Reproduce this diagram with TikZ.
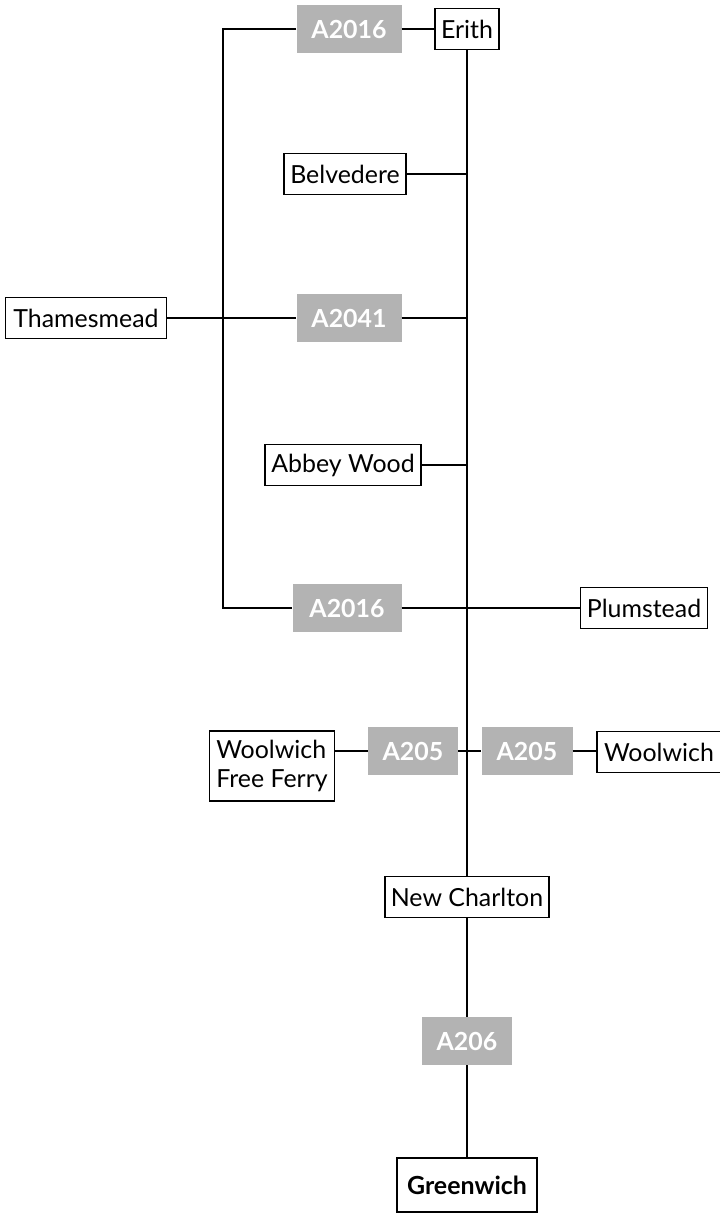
\documentclass[tikz,border=0pt]{standalone}
\usepackage{fontspec}
\setmainfont{Lato}
\usetikzlibrary{calc}

\begin{document}
\begin{tikzpicture}[
  x=1bp, y=-1bp,
  line/.style={black, line width=1.3bp},
  place/.style={draw, line width=1.4bp, fill=white, minimum height=41bp, inner sep=3bp,
    font=\fontsize{25}{28}\selectfont},
  road/.style={fill=roadgrey, text=white, minimum height=48bp, inner sep=3bp,
    font=\fontsize{25}{28}\selectfont\bfseries},
  town/.style={place, line width=2.6bp, minimum height=54bp, font=\fontsize{25}{28}\selectfont\bfseries}
  ]
  \definecolor{roadgrey}{HTML}{B3B3B3}
  \useasboundingbox (0,0) rectangle (720,1213);

  % places
  \node[place, minimum width=64bp]  (erith)      at (467,29)  {Erith};
  \node[place, minimum width=122bp] (belvedere)  at (345,174) {Belvedere};
  \node[place, minimum width=161bp] (thamesmead) at (86,318)  {Thamesmead};
  \node[place, minimum width=156bp] (abbeywood)  at (343,465) {Abbey Wood};
  \node[place, minimum width=127bp] (plumstead)  at (644,608) {Plumstead};
  \node[place, minimum width=125bp, minimum height=70bp, align=left,
        font=\fontsize{25}{29}\selectfont] (ferry) at (272,766) {Woolwich\\Free Ferry};
  \node[place, minimum width=124bp] (woolwich)   at (659,752) {Woolwich};
  \node[place, minimum width=164bp] (charlton)   at (467,897) {New Charlton};
  \node[town,  minimum width=140bp] (greenwich)  at (467,1185) {Greenwich};

  % roads
  \node[road, minimum width=105bp] (rdtop)    at (349,29)   {A2016};
  \node[road, minimum width=105bp] (rdmid)    at (349,318)  {A2041};
  \node[road, minimum width=109bp] (rdlow)    at (347,608)  {A2016};
  \node[road, minimum width=90bp]  (rdferry)  at (413,751)  {A205};
  \node[road, minimum width=91bp]  (rdwool)   at (527,751)  {A205};
  \node[road, minimum width=90bp]  (rdsouth)  at (467,1041) {A206};

  \coordinate (bendtop) at (223,29);
  \coordinate (bendlow) at (223,608);

  % connectors
  \draw[line] (erith.south) -- (charlton.north);
  \draw[line] (rdtop.east) -- (erith.west);
  \draw[line] (rdtop.west) -- (bendtop) -- (bendlow) -- (rdlow.west);
  \draw[line] (belvedere.east) -- (belvedere.east -| erith.south);
  \draw[line] (thamesmead.east) -- (rdmid.west);
  \draw[line] (rdmid.east) -- (rdmid.east -| erith.south);
  \draw[line] (abbeywood.east) -- (abbeywood.east -| erith.south);
  \draw[line] (rdlow.east) -- (plumstead.west);
  \draw[line] (ferry.east |- rdferry.west) -- (rdferry.west);
  \draw[line] (rdferry.east) -- (rdwool.west);
  \draw[line] (rdwool.east) -- (woolwich.west |- rdwool.east);
  \draw[line] (charlton.south) -- (rdsouth.north);
  \draw[line] (rdsouth.south) -- (greenwich.north);
\end{tikzpicture}
\end{document}
